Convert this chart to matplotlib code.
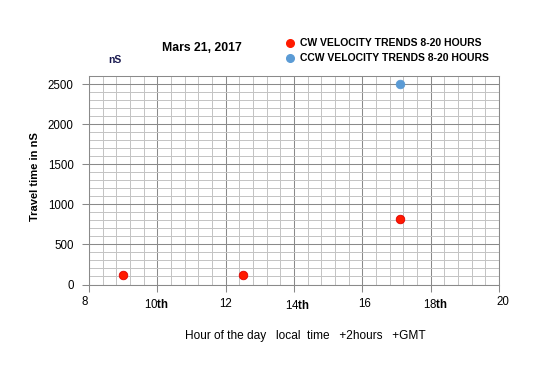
import matplotlib
matplotlib.use("Agg")
import matplotlib.pyplot as plt
import numpy as np

plt.rcParams['font.family'] = ['Liberation Sans', 'DejaVu Sans']
plt.rcParams['mathtext.fontset'] = 'custom'
plt.rcParams['mathtext.bf'] = 'Liberation Sans:bold'
plt.rcParams['mathtext.rm'] = 'Liberation Sans'

# Data
cw_hours = [9.0, 12.5, 17.1]
cw_time = [120, 120, 820]
ccw_hours = [17.1]
ccw_time = [2500]

x_tick_values = [8, 10, 12, 14, 16, 18, 20]
x_tick_numbers = ["8", "10", "12", "14", "16", "18", "20"]
x_tick_suffix = ["", "th", "", "th", "", "th", ""]
y_tick_values = [0, 500, 1000, 1500, 2000, 2500]

title = "Mars 21, 2017"
cw_label = "CW VELOCITY TRENDS 8-20 HOURS"
ccw_label = "CCW VELOCITY TRENDS 8-20 HOURS"
ylabel = "Travel time in nS"
xlabel = "Hour of the day   local  time   +2hours   +GMT"
unit_label = "nS"

fig = plt.figure(figsize=(5.5, 3.8), dpi=100)
ax = fig.add_axes([89/550, 1-284.5/380, 410/550, (284.5-76)/380])

ax.set_xlim(8, 20)
ax.set_ylim(0, 2600)

ax.set_xticks(x_tick_values)
ax.set_xticks(np.arange(8, 20.001, 0.4), minor=True)
ax.set_yticks(y_tick_values)
ax.set_yticks(np.arange(0, 2601, 100), minor=True)
ax.set_xticklabels([])
ax.tick_params(axis='x', which='major', direction='out', length=5, color='#888888', width=0.75)
ax.tick_params(axis='x', which='minor', length=0)
ax.tick_params(axis='y', which='major', direction='out', length=5, color='#888888', width=0.75,
               labelsize=8.3, pad=6)
ax.tick_params(axis='y', which='minor', length=0)

ax.grid(True, which='major', color='#8a8a8a', linewidth=0.75)
ax.grid(True, which='minor', color='#c4c4c4', linewidth=0.72)
ax.set_axisbelow(True)
for s in ax.spines.values():
    s.set_color('#8a8a8a')
    s.set_linewidth(0.75)

ax.scatter(cw_hours, cw_time, s=38, color='#ff1a00', edgecolors='#e00000',
           linewidths=0.6, zorder=3, clip_on=False)
ax.scatter(ccw_hours, ccw_time, s=38, color='#5b9bd5', edgecolors='#5b9bd5',
           linewidths=0.6, zorder=3, clip_on=False)

# custom x tick labels (pixel offsets below axis)
dx_px = [-4, -1, 0, 3.5, 2.5, 5, 3.5]
dy_px = [17.5, 20.5, 19.5, 21, 19.5, 19.5, 17.5]
for xv, num, suf, dx, dy in zip(x_tick_values, x_tick_numbers, x_tick_suffix, dx_px, dy_px):
    txt = num + (r"$\mathbf{%s}$" % suf if suf else "")
    ax.annotate(txt, xy=(xv, 0), xycoords='data', xytext=(dx*0.72, -dy*0.72),
                textcoords='offset points', ha='center', va='center', fontsize=8.3,
                annotation_clip=False)

fig.text(202/550, 1-48/380, title, ha='center', va='center', fontsize=8.8, fontweight='bold')
fig.text(115/550, 1-60/380, unit_label, ha='center', va='center', fontsize=7.5,
         fontweight='bold', color='#1a1a50')
fig.text(35/550, 1-177/380, ylabel, ha='center', va='center', rotation=90,
         fontsize=8, fontweight='bold')
fig.text(305/550, 1-336/380, xlabel, ha='center', va='center', fontsize=8.6)

# legend
leg_x = 290/550
for yy, col, lab in [(43, '#ff1a00', cw_label), (58, '#5b9bd5', ccw_label)]:
    fig.add_artist(plt.Line2D([leg_x], [1-yy/380], marker='o', markersize=5.5,
                              color=col, linestyle='none'))
    fig.text(300/550, 1-yy/380, lab, ha='left', va='center', fontsize=7.5,
             fontweight='bold')

fig.savefig("out.png", dpi=100)
